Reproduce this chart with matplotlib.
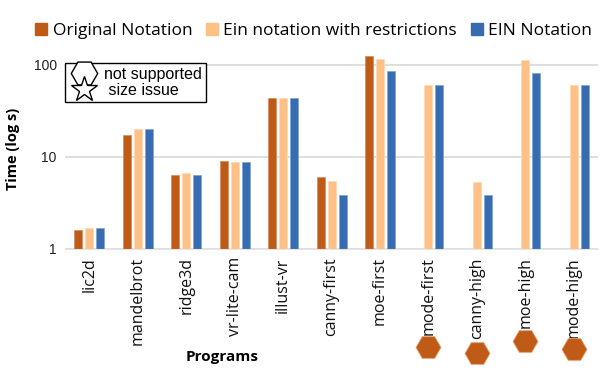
import numpy as np
import matplotlib
matplotlib.use("Agg")
import matplotlib.pyplot as plt
from matplotlib.lines import Line2D
from matplotlib.patches import Patch

# ---- data ----
programs = ["lic2d", "mandelbrot", "ridge3d", "vr-lite-cam", "illust-vr", "canny-first",
            "moe-first", "mode-first", "canny-high", "moe-high", "mode-high"]
original = [1.6, 17.5, 6.4, 9.0, 44, 6.0, 126, np.nan, np.nan, np.nan, np.nan]
ein_restr = [1.7, 20, 6.65, 8.75, 44, 5.5, 116, 61, 5.3, 112, 61]
ein = [1.7, 20, 6.4, 8.75, 44, 3.9, 86, 61, 3.9, 82, 61]
not_supported = ["mode-first", "canny-high", "moe-high", "mode-high"]
hex_offset = [-0.49, -0.52, -0.46, -0.50]   # where the hexagons sit under the labels (axes frac)

c_orig = "#C05A17"
c_restr = "#FFC086"
c_ein = "#386CB0"

fig = plt.figure(figsize=(6.09, 3.72), dpi=100)
ax = fig.add_axes([0.107, 0.331, 0.875, 0.540])

x = np.arange(len(programs))
w = 0.165
step = 0.227
ax.bar(x - step, original, w, color=c_orig, edgecolor="#D9885A", linewidth=0.5)
ax.bar(x, ein_restr, w, color=c_restr, edgecolor="#FFD9B5", linewidth=0.5)
ax.bar(x + step, ein, w, color=c_ein, edgecolor="#7FA3D3", linewidth=0.5)

ax.set_yscale("log")
ax.set_ylim(1, 153)
ax.set_xlim(-0.5, len(programs) - 0.5)
ax.set_yticks([1, 10, 100])
ax.set_yticklabels(["1", "10", "100"], family="Liberation Sans", fontsize=10, color="#222222")
ax.yaxis.set_minor_locator(matplotlib.ticker.NullLocator())
ax.set_xticks(x)
ax.set_xticklabels(programs, rotation=90, family="Open Sans", fontsize=11.5, color="#111111")
ax.tick_params(length=0, pad=6)
ax.grid(axis="y", color="#D9D9D9", linewidth=1.2)
ax.set_axisbelow(True)
for s in ["top", "right", "left"]:
    ax.spines[s].set_visible(False)
ax.spines["bottom"].set_color("#E6E6E6")

ax.set_ylabel("Time (log s)", family="Open Sans", fontweight="bold", fontsize=10.5, labelpad=10)
fig.text(0.365, 0.04, "Programs", family="Open Sans", fontweight="bold", fontsize=11,
         ha="center", va="center")

# hexagons under the unsupported programs
for name, off in zip(not_supported, hex_offset):
    ax.plot(programs.index(name), off, marker="H", markersize=18, color=c_orig,
            markeredgecolor="#E8A070", markeredgewidth=0.6,
            transform=ax.get_xaxis_transform(), clip_on=False)

# inner legend
h1 = Line2D([], [], marker="H", linestyle="none", markersize=19, markerfacecolor="white",
            markeredgecolor="black", markeredgewidth=1.0)
h2 = Line2D([], [], marker="*", linestyle="none", markersize=19, markerfacecolor="white",
            markeredgecolor="black", markeredgewidth=1.0)
leg2 = ax.legend([h1, h2], ["not supported", " size issue"], loc="upper left",
                 bbox_to_anchor=(0.0, 0.925), borderaxespad=0, fancybox=False,
                 edgecolor="black", framealpha=1, prop={"family": "Liberation Sans", "size": 11.5},
                 handletextpad=0.4, labelspacing=0.05, borderpad=0.25, handlelength=1.8)
leg2.get_frame().set_linewidth(1.0)

# top legend
handles = [Patch(color=c_orig), Patch(color=c_restr), Patch(color=c_ein)]
fig.legend(handles, ["Original Notation", "Ein notation with restrictions", "EIN Notation"],
           loc="center", bbox_to_anchor=(0.515, 0.917), ncol=3, frameon=False,
           prop={"family": "Open Sans", "size": 12.5}, handlelength=0.7, handleheight=0.7,
           handletextpad=0.3, columnspacing=0.8)

plt.savefig("out.png", dpi=100)
